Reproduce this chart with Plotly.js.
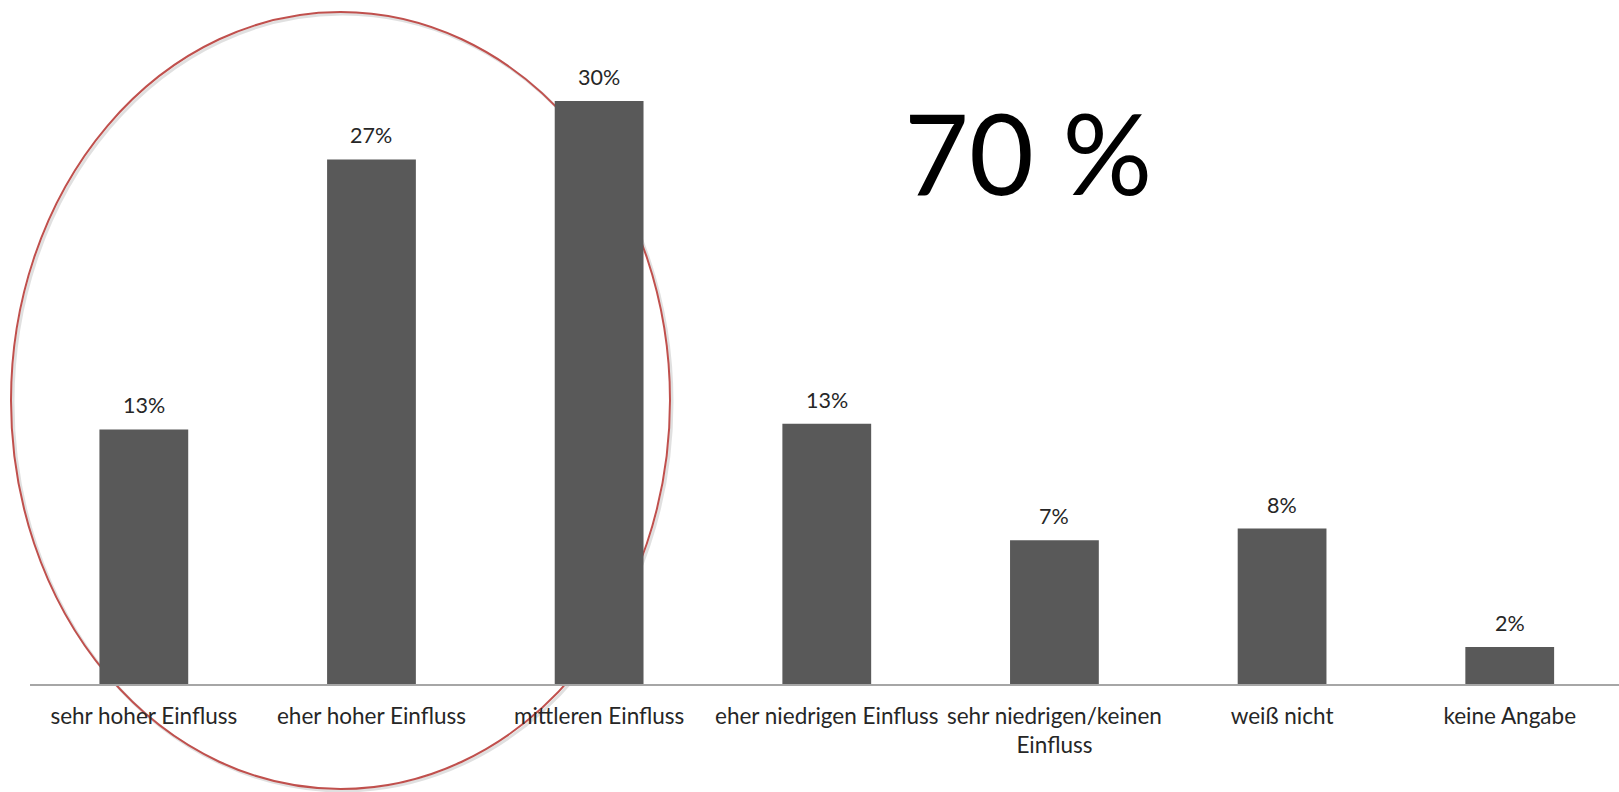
<!DOCTYPE html>
<html>
<head>
<meta charset="utf-8">
<script src="https://cdn.plot.ly/plotly-3.0.1.min.js"></script>
<style>
  html, body { margin: 0; padding: 0; background: #ffffff; }
  #chart { width: 1619px; height: 792px; }
</style>
</head>
<body>
<div id="chart"></div>
<script>
// ---- Data ----
const categories = [
  "sehr hoher Einfluss",
  "eher hoher Einfluss",
  "mittleren Einfluss",
  "eher niedrigen Einfluss",
  "sehr niedrigen/keinen<br>Einfluss",
  "weiß nicht",
  "keine Angabe"
];
const values = [13.1, 27.0, 30.0, 13.4, 7.4, 8.0, 1.9];
const valueLabels = ["13%", "27%", "30%", "13%", "7%", "8%", "2%"];
const highlightText = "70 %";

// ---- Layout geometry ----
const W = 1619, H = 792;
const M = { l: 30, r: 0, t: 62, b: 108 };
const plotW = W - M.l - M.r;
const plotH = H - M.t - M.b;
const px = x => (x - M.l) / plotW;
const py = y => (H - M.b - y) / plotH;

const FONT = "Lato, 'Open Sans', sans-serif";

const trace = {
  type: "bar",
  x: categories,
  y: values,
  marker: { color: "#595959", line: { width: 0 } },
  width: 0.39,
  hoverinfo: "skip",
  showlegend: false
};

const labelAnnotations = categories.map((c, i) => ({
  x: c, y: values[i], xref: "x", yref: "y",
  text: valueLabels[i],
  showarrow: false,
  yanchor: "bottom",
  yshift: 9,
  font: { family: FONT, size: 21.5, color: "#262626" }
}));

const layout = {
  width: W, height: H,
  margin: M,
  paper_bgcolor: "#ffffff",
  plot_bgcolor: "rgba(0,0,0,0)",
  font: { family: FONT, color: "#262626" },
  xaxis: {
    type: "category",
    range: [-0.5, 6.48],
    showline: true, linecolor: "#a6a6a6", linewidth: 1.5,
    showgrid: false, zeroline: false,
    ticks: "outside", ticklen: 11, tickcolor: "rgba(0,0,0,0)",
    tickfont: { family: FONT, size: 22.5, color: "#262626" },
    fixedrange: true
  },
  yaxis: {
    range: [0, plotH / 19.43],
    visible: false,
    showgrid: false, zeroline: false,
    fixedrange: true
  },
  bargap: 0.61,
  shapes: [
    {
      type: "circle", layer: "below",
      xref: "paper", yref: "paper",
      x0: px(13), x1: px(672), y0: py(791), y1: py(14),
      line: { color: "rgba(0,0,0,0.12)", width: 3 }
    },
    {
      type: "circle", layer: "below",
      xref: "paper", yref: "paper",
      x0: px(11), x1: px(670), y0: py(789), y1: py(12),
      line: { color: "#c0504d", width: 2 }
    }
  ],
  annotations: labelAnnotations.concat([
    {
      xref: "paper", yref: "paper",
      x: px(1028), y: py(151),
      xanchor: "center", yanchor: "middle",
      text: highlightText,
      showarrow: false,
      font: { family: FONT, size: 112, color: "#000000" }
    }
  ])
};

Plotly.newPlot("chart", [trace], layout, { displayModeBar: false, staticPlot: true });
</script>
</body>
</html>
